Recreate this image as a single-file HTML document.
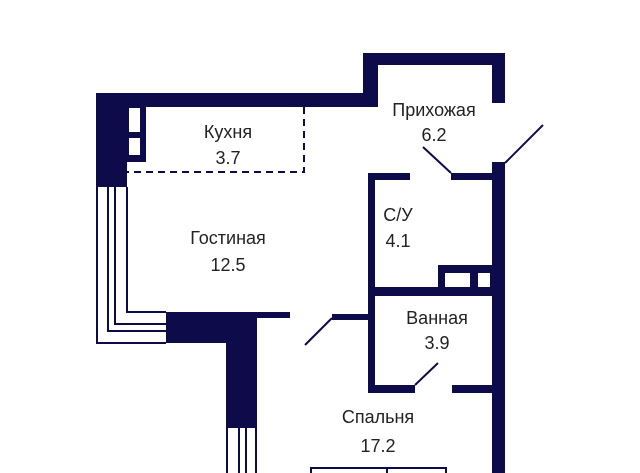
<!DOCTYPE html>
<html><head><meta charset="utf-8"><style>
html,body{margin:0;padding:0;background:#fff;width:640px;height:473px;overflow:hidden}
svg{display:block}
text{font-family:"Liberation Sans",sans-serif;font-size:18px;fill:#222;text-anchor:middle}
</style></head><body>
<svg width="640" height="473" viewBox="0 0 640 473" xmlns="http://www.w3.org/2000/svg">
<g fill="#0e0b4b">
<rect x="96" y="93" width="282" height="14"/>
<rect x="363" y="53" width="142" height="12"/>
<rect x="363" y="53" width="15" height="54"/>
<rect x="492" y="53" width="13" height="50"/>
<rect x="96" y="93" width="50" height="69"/>
<rect x="96" y="93" width="31" height="94"/>
<rect x="166" y="312" width="124" height="6"/>
<rect x="166" y="312" width="91" height="31"/>
<rect x="226" y="312" width="31" height="116"/>
<rect x="492" y="162" width="13" height="311"/>
<rect x="368" y="173" width="42" height="7"/>
<rect x="451" y="173" width="41" height="7"/>
<rect x="368" y="173" width="7" height="220"/>
<rect x="368" y="287" width="124" height="9"/>
<rect x="438" y="265" width="54" height="22"/>
<rect x="368" y="385" width="47" height="8"/>
<rect x="452" y="385" width="40" height="8"/>
<rect x="332" y="314" width="36" height="6"/>
</g>
<g fill="#fff">
<rect x="129" y="108" width="11" height="24"/>
<rect x="129" y="138" width="11" height="17"/>
<rect x="445" y="273" width="25" height="14"/>
<rect x="478" y="273" width="12" height="14"/>
</g>
<g stroke="#0e0b4b" fill="none" stroke-width="2">
<path d="M97 187 V343 H166"/>
<path d="M108 187 V331 H166"/>
<path d="M115 187 V324 H166"/>
<path d="M127 187 V312 H166"/>
<path d="M227 428 V473 M239 428 V473 M246 428 V473 M256 428 V473"/>
<path d="M543 125 L505 163"/>
<path d="M423 147 L451 173"/>
<path d="M305 345 L332 318"/>
<path d="M415 385 L438 363"/>
<path d="M311 473 V468 H446 V473 M387 468 V473"/>
</g>
<path d="M304 107 V172 H127" stroke="#0e0b4b" stroke-width="2" fill="none" stroke-dasharray="7,5"/>
<text x="228" y="138">Кухня</text>
<text x="228" y="164">3.7</text>
<text x="228" y="244">Гостиная</text>
<text x="228" y="271">12.5</text>
<text x="434" y="116">Прихожая</text>
<text x="434" y="141">6.2</text>
<text x="398" y="221">С/У</text>
<text x="398" y="247">4.1</text>
<text x="437" y="324">Ванная</text>
<text x="437" y="349">3.9</text>
<text x="378" y="423">Спальня</text>
<text x="378" y="452">17.2</text>
</svg>
</body></html>
